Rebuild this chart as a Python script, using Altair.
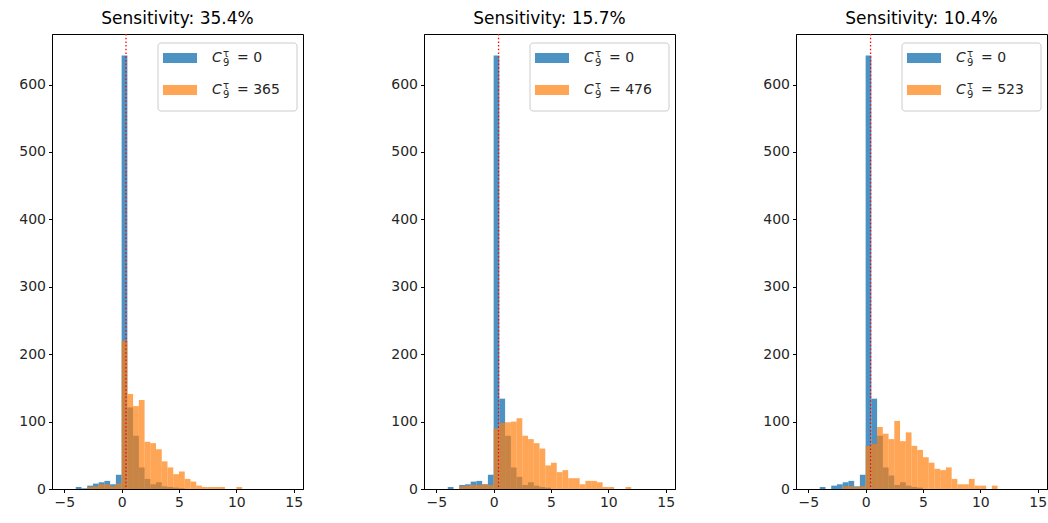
import altair as alt
import pandas as pd

# ---------------- data ----------------
BIN_LEFT = [-4.0, -3.5, -3.0, -2.5, -2.0, -1.5, -1.0, -0.5, 0.0, 0.5, 1.0, 1.5,
            2.0, 2.5, 3.0, 3.5, 4.0, 4.5, 5.0, 5.5, 6.0, 6.5, 7.0, 7.5,
            8.0, 8.5, 9.0, 9.5, 10.0, 10.5, 11.0, 11.5]
BIN_WIDTH = 0.5

BLUE_1 = [3, 1, 5, 8, 10, 12, 7, 21, 643, 121, 79, 32, 15, 7, 10, 4, 3, 2, 1,
          0, 0, 0, 0, 0, 0, 0, 0, 0, 0, 0, 0, 0]
ORANGE_1 = [0, 0, 3, 4, 7, 7, 4, 8, 220, 141, 123, 132, 70, 68, 59, 41, 32, 22,
            26, 15, 11, 5, 3, 3, 3, 3, 0, 0, 3, 0, 0, 0]

BLUE_2 = [3, 0, 6, 7, 11, 12, 7, 21, 643, 134, 79, 32, 18, 6, 10, 5, 3, 2,
          0, 0, 0, 0, 0, 0, 0, 0, 0, 0, 0, 0, 0, 0]
ORANGE_2 = [0, 0, 4, 5, 6, 6, 7, 6, 90, 98, 99, 100, 105, 79, 74, 68, 60, 35,
            39, 25, 28, 16, 16, 7, 12, 12, 10, 3, 3, 0, 0, 3]

BLUE_3 = [3, 0, 5, 7, 10, 12, 4, 21, 643, 134, 79, 32, 20, 6, 10, 5, 3, 2,
          0, 0, 0, 0, 0, 0, 0, 0, 0, 0, 0, 0, 0, 0]
ORANGE_3 = [0, 0, 0, 0, 4, 4, 3, 4, 64, 67, 92, 82, 74, 101, 71, 84, 64, 58,
            47, 39, 30, 28, 32, 15, 7, 7, 15, 5, 5, 0, 5, 0]

SENSITIVITY = ["35.4%", "15.7%", "10.4%"]
C9_VALUES = ["365", "476", "523"]
THRESHOLD = [0.38, 0.43, 0.43]

X_TICKS = [-5, 0, 5, 10, 15]
Y_TICKS = [0, 100, 200, 300, 400, 500, 600]
X_DOMAIN = [-6.07, 15.81]
Y_DOMAIN = [0, 675]

BLUE = "#1f77b4"
ORANGE = "#ff7f0e"
FONT = "DejaVu Sans"

W, H = 251, 455


def hist_df(counts):
    rows = []
    for left, c in zip(BIN_LEFT, counts):
        if c > 0:
            rows.append({"start": left, "end": left + BIN_WIDTH, "count": c})
    return pd.DataFrame(rows)


def panel(blue_counts, orange_counts, sens, c9, thr):
    xs = alt.Scale(domain=X_DOMAIN, nice=False, zero=False)
    ys = alt.Scale(domain=Y_DOMAIN, nice=False, zero=False)
    xax = alt.Axis(values=X_TICKS, title=None, format="d",
                   labelExpr="replace(datum.label, '-', '\u2212')")
    yax = alt.Axis(values=Y_TICKS, title=None, format="d")

    def bars(counts, color, op):
        return alt.Chart(hist_df(counts)).mark_rect(color=color, opacity=op).encode(
            x=alt.X("start:Q", scale=xs, axis=xax),
            x2="end:Q",
            y=alt.Y("count:Q", scale=ys, axis=yax),
            y2=alt.datum(0),
        )

    b = bars(blue_counts, BLUE, 0.8)
    o = bars(orange_counts, ORANGE, 0.7)

    rule = alt.Chart(pd.DataFrame({"t": [thr]})).mark_rule(
        color="red", strokeDash=[1.5, 2.2], strokeWidth=1.3
    ).encode(x=alt.X("t:Q", scale=xs))

    dummy = pd.DataFrame({"a": [0]})
    box = alt.Chart(dummy).mark_rect(
        fill="white", fillOpacity=0.8, stroke="#cccccc", strokeWidth=1, cornerRadius=3
    ).encode(x=alt.value(106), x2=alt.value(245), y=alt.value(9), y2=alt.value(77))

    layers = [box]
    for row_y, color, op, val in [(24, BLUE, 0.8, "0"), (56, ORANGE, 0.7, c9)]:
        sw = alt.Chart(dummy).mark_rect(color=color, opacity=op).encode(
            x=alt.value(111), x2=alt.value(145),
            y=alt.value(row_y - 5), y2=alt.value(row_y + 5))
        tc = alt.Chart(dummy).mark_text(
            font=FONT, fontSize=14, fontStyle="italic", align="left",
            baseline="middle", color="#262626"
        ).encode(x=alt.value(160), y=alt.value(row_y), text=alt.value("C"))
        tsup = alt.Chart(dummy).mark_text(
            font=FONT, fontSize=10, align="left", baseline="middle", color="#262626"
        ).encode(x=alt.value(171), y=alt.value(row_y - 4), text=alt.value("τ"))
        tsub = alt.Chart(dummy).mark_text(
            font=FONT, fontSize=10, align="left", baseline="middle", color="#262626"
        ).encode(x=alt.value(171), y=alt.value(row_y + 5), text=alt.value("9"))
        teq = alt.Chart(dummy).mark_text(
            font=FONT, fontSize=14, align="left", baseline="middle", color="#262626"
        ).encode(x=alt.value(185), y=alt.value(row_y), text=alt.value("= " + val))
        layers += [sw, tc, tsup, tsub, teq]

    return alt.layer(b, o, rule, *layers).properties(
        width=W, height=H,
        title=alt.TitleParams("Sensitivity: " + sens, font=FONT, fontSize=17,
                              fontWeight="normal", color="black", offset=5,
                              anchor="middle"),
    )


p1 = panel(BLUE_1, ORANGE_1, SENSITIVITY[0], C9_VALUES[0], THRESHOLD[0])
p2 = panel(BLUE_2, ORANGE_2, SENSITIVITY[1], C9_VALUES[1], THRESHOLD[1])
p3 = panel(BLUE_3, ORANGE_3, SENSITIVITY[2], C9_VALUES[2], THRESHOLD[2])

chart = alt.HConcatChart(hconcat=[p1, p2, p3], spacing=121, bounds="flush").properties(
    padding={"left": 18, "top": 9, "right": 0, "bottom": 0},
    background="white",
).configure_view(
    stroke="black", strokeWidth=1
).configure_axis(
    grid=False, domainColor="black", domainWidth=1, tickColor="black",
    tickSize=3.5, tickWidth=1, labelFont=FONT, labelFontSize=14,
    labelColor="#262626", labelPadding=3,
)

chart.save("out.html", embed_options={"renderer": "svg", "actions": False})
